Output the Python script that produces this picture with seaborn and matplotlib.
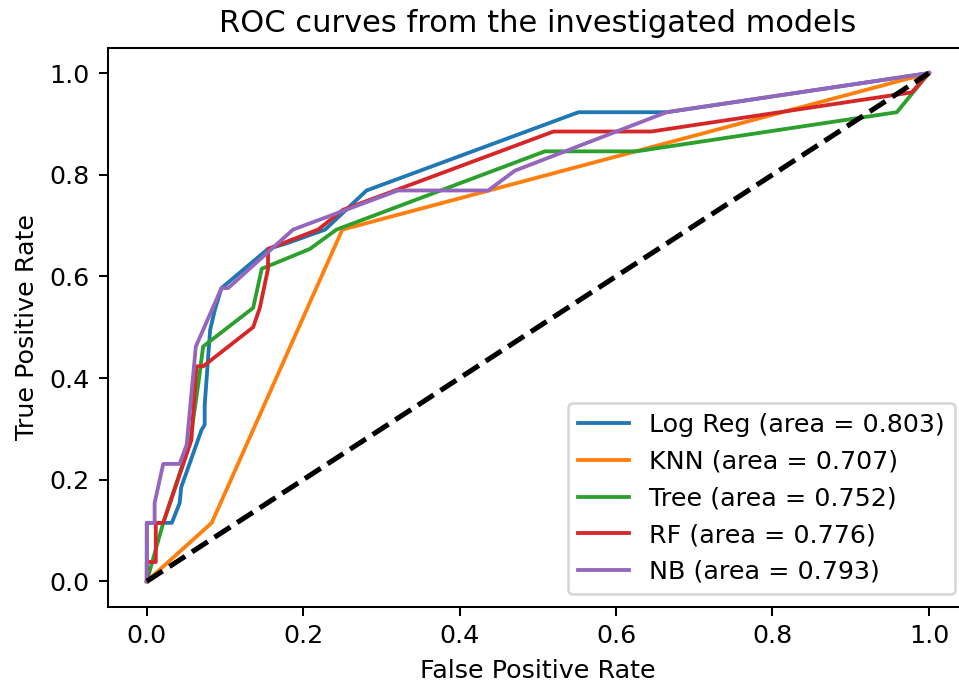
import numpy as np
import matplotlib
matplotlib.use("Agg")
import matplotlib.pyplot as plt
import seaborn as sns

# ==============================
# ROC DATA
# ==============================
model_names = ["Log Reg", "KNN", "Tree", "RF", "NB"]
auc_values = [0.803, 0.707, 0.752, 0.776, 0.793]

fpr_logreg = [0.0, 0.0, 0.032, 0.042, 0.044, 0.070, 0.074, 0.074, 0.081, 0.087,
              0.0955, 0.155, 0.179, 0.228, 0.281, 0.552, 0.665, 1.0]
tpr_logreg = [0.0, 0.115, 0.115, 0.154, 0.185, 0.298, 0.308, 0.346, 0.495, 0.534,
              0.577, 0.654, 0.665, 0.692, 0.769, 0.923, 0.923, 1.0]

fpr_knn = [0.0, 0.083, 0.25, 1.0]
tpr_knn = [0.0, 0.115, 0.692, 1.0]

fpr_tree = [0.0, 0.021, 0.055, 0.066, 0.072, 0.136, 0.147, 0.2085, 0.2425, 0.509,
            0.626, 0.959, 1.0]
tpr_tree = [0.0, 0.115, 0.272, 0.39, 0.462, 0.538, 0.615, 0.654, 0.692, 0.846,
            0.846, 0.923, 1.0]

fpr_rf = [0.0, 0.0, 0.0115, 0.0115, 0.021, 0.057, 0.0635, 0.072, 0.136, 0.1445,
          0.155, 0.155, 0.219, 0.251, 0.52, 0.645, 0.978, 1.0]
tpr_rf = [0.0, 0.038, 0.038, 0.115, 0.115, 0.278, 0.423, 0.423, 0.5, 0.538,
          0.615, 0.654, 0.692, 0.731, 0.885, 0.885, 0.962, 1.0]

fpr_nb = [0.0, 0.0, 0.010, 0.010, 0.021, 0.042, 0.051, 0.0627, 0.0955, 0.104, 0.187,
          0.321, 0.4365, 0.4706, 0.6645, 1.0]
tpr_nb = [0.0, 0.115, 0.115, 0.154, 0.231, 0.231, 0.269, 0.462, 0.577, 0.577, 0.692,
          0.769, 0.769, 0.808, 0.923, 1.0]

fpr_list = [fpr_logreg, fpr_knn, fpr_tree, fpr_rf, fpr_nb]
tpr_list = [tpr_logreg, tpr_knn, tpr_tree, tpr_rf, tpr_nb]

# ==============================
# PLOT
# ==============================
colors = sns.color_palette("tab10", 5)

fig = plt.figure(figsize=(959 / 183, 685 / 183), dpi=183)
ax = fig.add_axes([0.1123, 0.1143, 0.8971, 0.8161])

for name, auc, fpr, tpr, c in zip(model_names, auc_values, fpr_list, tpr_list, colors):
    sns.lineplot(x=fpr, y=tpr, sort=False, estimator=None, color=c, lw=1.5,
                 label=f"{name} (area = {auc:.3f})", ax=ax)

ax.plot([0, 1], [0, 1], color="black", lw=2, linestyle="--")

ax.set_xlim(-0.05, 1.05)
ax.set_ylim(-0.05, 1.05)
ax.set_xticks([0.0, 0.2, 0.4, 0.6, 0.8, 1.0])
ax.set_yticks([0.0, 0.2, 0.4, 0.6, 0.8, 1.0])
ax.set_xlabel("False Positive Rate")
ax.set_ylabel("True Positive Rate")
ax.set_title("ROC curves from the investigated models")
ax.legend(loc="lower right")

fig.savefig("out.png", dpi=183)
